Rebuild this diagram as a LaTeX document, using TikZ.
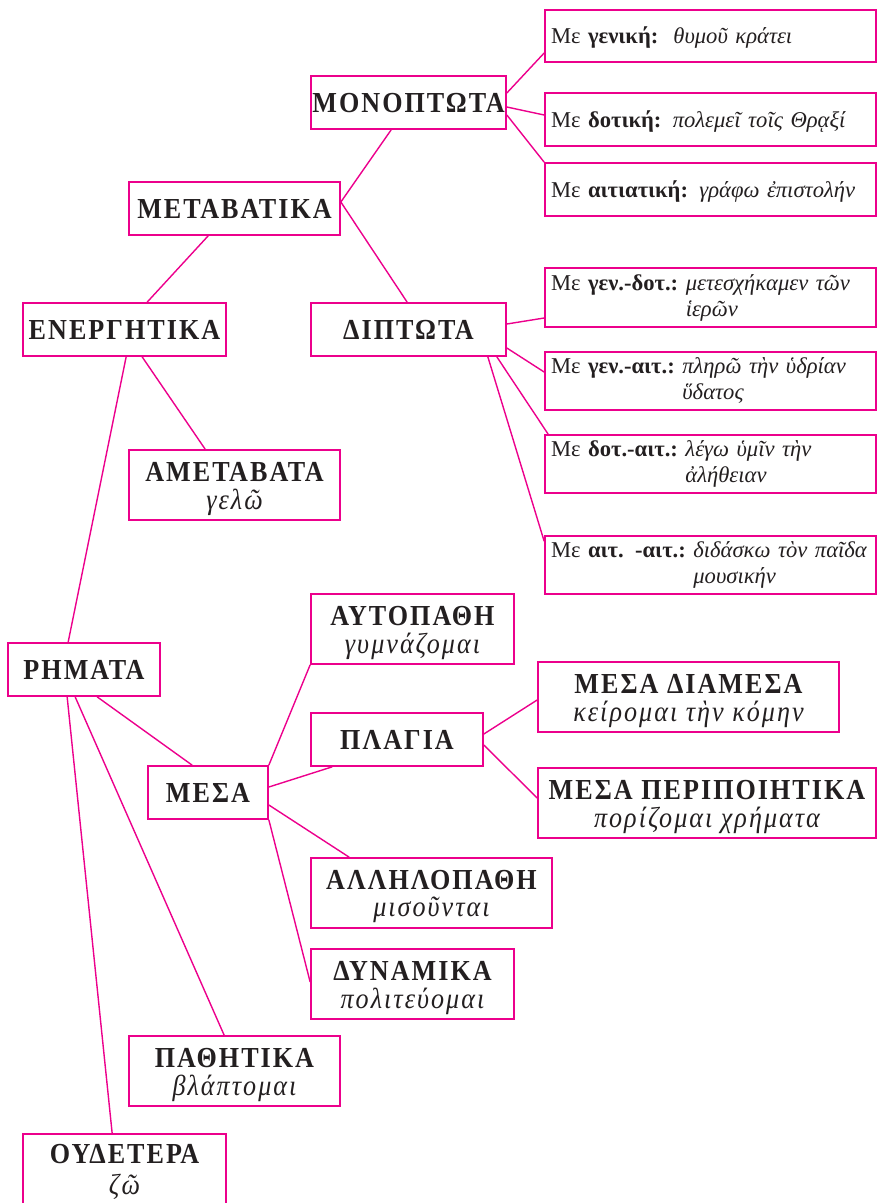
\documentclass[tikz,border=0pt]{standalone}
\usepackage{fontspec}
\setmainfont{Liberation Serif}
\newfontfamily\tfont{Liberation Serif}[LetterSpace=7, FakeStretch=0.9]
\usetikzlibrary{calc}
\definecolor{pk}{HTML}{EC008C}
\definecolor{ink}{HTML}{231F20}
\newcommand\mkbox[7][tbox]{\node[#1, minimum width={(#4)-(#2)}, minimum height={(#5)-(#3)}] (#6) at ({((#2)+(#4))/2},{((#3)+(#5))/2}) {#7};}
\newcommand\two[3][0pt]{\begin{tabular}[t]{@{}c@{}}\bfseries #2\\[#1]\itshape #3\end{tabular}}
\newcommand\rtwo[3]{\begin{tabular}[t]{@{}l@{\ }l@{}}#1 & \textit{#2}\\ & \textit{#3}\end{tabular}}
\begin{document}
\begin{tikzpicture}[x=1pt,y=-1pt,
  tbox/.style={draw=pk, line width=1.7pt, inner sep=0pt, text=ink, align=center,
    font=\tfont\fontsize{29}{27}\selectfont\bfseries, text height=19pt, text depth=0pt},
  tbox2/.style={tbox, font=\tfont\fontsize{29}{27}\selectfont, text height=19pt, text depth=27pt},
  rbox/.style={draw=pk, line width=1.7pt, inner xsep=6pt, inner ysep=0pt, text=ink,
    text width=319pt, align=left, font=\fontsize{22.6}{26}\selectfont, text height=15pt, text depth=0pt},
  rbox2/.style={rbox, text height=15pt, text depth=30pt},
  link/.style={draw=pk, line width=1.4pt}]
\useasboundingbox (0,0) rectangle (877,1203);
\clip (0,0) rectangle (877,1203);

% boxes
\mkbox{311}{76}{506}{129}{mono}{ΜΟΝΟΠΤΩΤΑ}
\mkbox{129}{182}{340}{235}{meta}{ΜΕΤΑΒΑΤΙΚΑ}
\mkbox{23}{303}{226}{356}{enep}{ΕΝΕΡΓΗΤΙΚΑ}
\mkbox{311}{303}{506}{356}{dipt}{ΔΙΠΤΩΤΑ}
\mkbox[tbox2]{129}{450}{340}{520}{ameta}{\two{ΑΜΕΤΑΒΑΤΑ}{γελῶ}}
\mkbox[rbox]{545}{10}{876}{62}{gen}{Με \textbf{γενική:}\ \ \textit{θυμοῦ κράτει}}
\mkbox[rbox]{545}{93}{876}{146}{dot}{Με \textbf{δοτική:} \textit{πολεμεῖ τοῖς Θρᾳξί}}
\mkbox[rbox]{545}{163}{876}{216}{ait}{Με \textbf{αιτιατική:} \textit{γράφω ἐπιστολήν}}
\mkbox[rbox2]{545}{268}{876}{327}{gd}{\rtwo{Με \textbf{γεν.-δοτ.:}}{μετεσχήκαμεν τῶν}{ἱερῶν}}
\mkbox[rbox2]{545}{352}{876}{410}{ga}{\rtwo{Με \textbf{γεν.-αιτ.:}}{πληρῶ τὴν ὑδρίαν}{ὕδατος}}
\mkbox[rbox2]{545}{435}{876}{493}{da}{\rtwo{Με \textbf{δοτ.-αιτ.:}}{λέγω ὑμῖν τὴν}{ἀλήθειαν}}
\mkbox[rbox2]{545}{536}{876}{594}{aa}{\rtwo{Με \textbf{αιτ. -αιτ.:}}{διδάσκω τὸν παῖδα}{μουσικήν}}
\mkbox[tbox2]{311}{594}{514}{664}{auto}{\two{ΑΥΤΟΠΑΘΗ}{γυμνάζομαι}}
\mkbox{8}{643}{160}{696}{rhm}{ΡΗΜΑΤΑ}
\mkbox{311}{713}{483}{766}{plag}{ΠΛΑΓΙΑ}
\mkbox{148}{766}{268}{819}{mesa}{ΜΕΣΑ}
\mkbox[tbox2]{538}{662}{839}{732}{dia}{\two{ΜΕΣΑ ΔΙΑΜΕΣΑ}{κείρομαι τὴν κόμην}}
\mkbox[tbox2]{538}{768}{876}{838}{per}{\two{ΜΕΣΑ ΠΕΡΙΠΟΙΗΤΙΚΑ}{πορίζομαι χρήματα}}
\mkbox[tbox2]{311}{858}{552}{928}{all}{\two{ΑΛΛΗΛΟΠΑΘΗ}{μισοῦνται}}
\mkbox[tbox2]{311}{949}{514}{1019}{dyn}{\two{ΔΥΝΑΜΙΚΑ}{πολιτεύομαι}}
\mkbox[tbox2]{129}{1036}{340}{1106}{path}{\two{ΠΑΘΗΤΙΚΑ}{βλάπτομαι}}
\mkbox[tbox2,text depth=32pt]{23}{1134}{226}{1205}{oud}{\two[3pt]{ΟΥΔΕΤΕΡΑ}{ζῶ}}

% connectors
\draw[link] ([yshift=6.5pt]meta.east) -- ([xshift=81pt]mono.south west);
\draw[link] ([yshift=6.5pt]meta.east) -- ([xshift=97pt]dipt.north west);
\draw[link] ([xshift=80pt]meta.south west) -- ([xshift=125pt]enep.north west);
\draw[link] ([yshift=9.5pt]mono.east) -- ([yshift=-17pt]gen.west);
\draw[link] ([yshift=-4.5pt]mono.east) -- ([yshift=4.5pt]dot.west);
\draw[link] ([yshift=-12.5pt]mono.east) -- (ait.north west);
\draw[link] ([yshift=5.5pt]dipt.east) -- ([yshift=-20.5pt]gd.west);
\draw[link] ([yshift=-18.5pt]dipt.east) -- ([yshift=9pt]ga.west);
\draw[link] ([xshift=-10pt]dipt.south east) -- ([xshift=4pt]da.north west);
\draw[link] ([xshift=-19pt]dipt.south east) -- ([yshift=-6pt]aa.north west);
\draw[link] ([xshift=120pt]enep.south west) -- ([xshift=77pt]ameta.north west);
\draw[link] ([xshift=104pt]enep.south west) -- ([xshift=61pt]rhm.north west);
\draw[link] ([xshift=90pt]rhm.south west) -- ([xshift=45pt]mesa.north west);
\draw[link] ([xshift=68pt]rhm.south west) -- ([xshift=96pt]path.north west);
\draw[link] ([xshift=60pt]rhm.south west) -- ([xshift=90pt]oud.north west);
\draw[link] (mesa.north east) -- (auto.south west);
\draw[link] ([yshift=5.5pt]mesa.east) -- ([xshift=22pt]plag.south west);
\draw[link] ([yshift=-12.5pt]mesa.east) -- ([xshift=39pt]all.north west);
\draw[link] (mesa.south east) -- ([yshift=2pt]dyn.west);
\draw[link] ([yshift=5.5pt]plag.east) -- ([yshift=-3pt]dia.west);
\draw[link] ([yshift=-5.5pt]plag.east) -- ([yshift=5pt]per.west);
\end{tikzpicture}
\end{document}
